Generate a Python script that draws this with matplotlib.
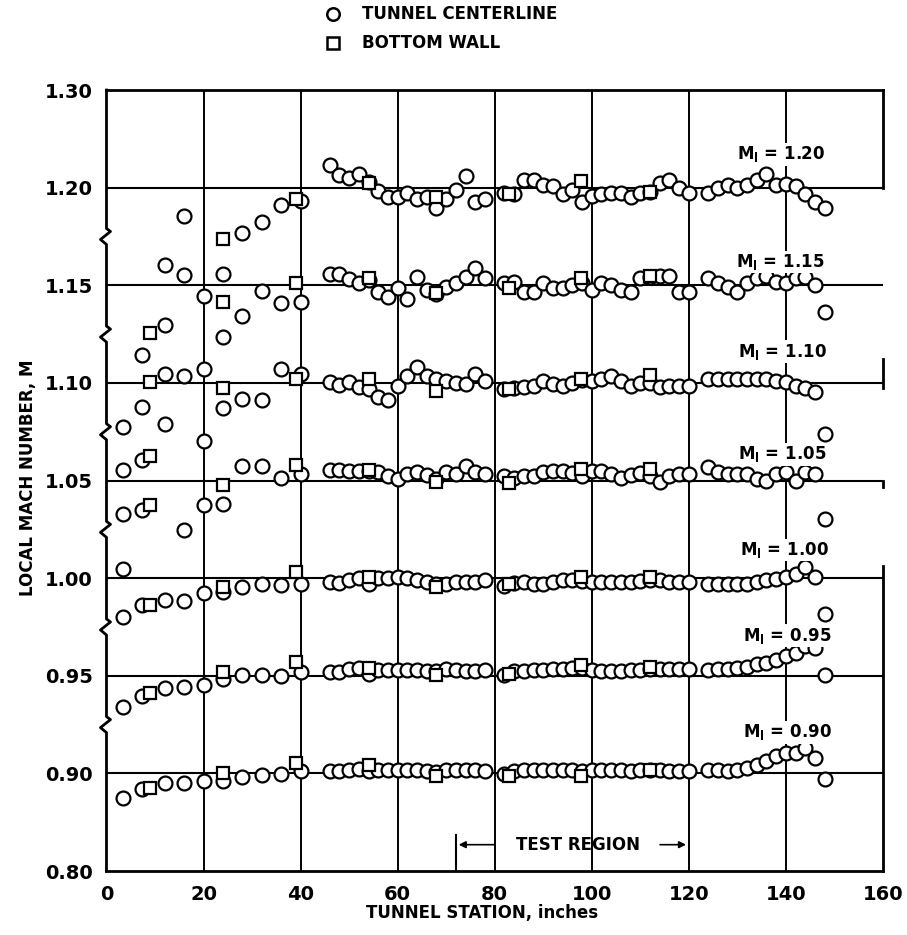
import matplotlib
matplotlib.use('Agg')
import matplotlib.pyplot as plt
from matplotlib.lines import Line2D

plt.rcParams['font.family'] = ['DejaVu Sans']

# tunnel stations, inches
stations_upstream = [3.5, 7.3, 12, 16, 20, 24, 28, 32, 36, 40]
stations_downstream = [46, 48, 50, 52, 54, 56, 58, 60, 62, 64, 66, 68, 70, 72, 74, 76, 78,
                       82, 84, 86, 88, 90, 92, 94, 96, 98, 100, 102, 104, 106, 108, 110, 112, 114, 116, 118, 120,
                       124, 126, 128, 130, 132, 134, 136, 138, 140, 142, 144, 146, 148]
wall_stations = [9, 24, 39, 54, 68, 83, 97.7, 112]

mach_nominal = [0.90, 0.95, 1.00, 1.05, 1.10, 1.15, 1.20]

# local Mach number on the tunnel centerline (upstream stations, then downstream stations)
cl_090 = [0.875, 0.884, 0.890, 0.890, 0.892, 0.892, 0.896, 0.898, 0.899, 0.902,
          0.902, 0.902, 0.904, 0.905, 0.902, 0.903, 0.903, 0.903, 0.903, 0.903, 0.902, 0.901, 0.903, 0.903, 0.903, 0.903, 0.902,
          0.899, 0.902, 0.903, 0.903, 0.903, 0.903, 0.903, 0.903, 0.902, 0.903, 0.903, 0.903, 0.903, 0.902, 0.903, 0.903, 0.903, 0.902, 0.902, 0.902,
          0.904, 0.904, 0.902, 0.904, 0.906, 0.909, 0.913, 0.918, 0.921, 0.921, 0.926, 0.916, 0.894]
cl_095 = [0.918, 0.929, 0.937, 0.939, 0.941, 0.947, 0.951, 0.951, 0.950, 0.954,
          0.954, 0.954, 0.957, 0.958, 0.952, 0.956, 0.956, 0.956, 0.956, 0.956, 0.955, 0.955, 0.957, 0.956, 0.955, 0.955, 0.956,
          0.951, 0.955, 0.955, 0.956, 0.956, 0.957, 0.957, 0.958, 0.958, 0.956, 0.955, 0.955, 0.955, 0.956, 0.956, 0.957, 0.957, 0.957, 0.957, 0.957,
          0.956, 0.957, 0.957, 0.958, 0.959, 0.962, 0.963, 0.966, 0.970, 0.973, 0.981, 0.978, 0.951]
cl_100 = [0.960, 0.973, 0.978, 0.977, 0.985, 0.986, 0.991, 0.994, 0.993, 0.994,
          0.996, 0.995, 0.998, 1.000, 0.994, 1.000, 1.000, 1.001, 1.000, 0.998, 0.996, 0.994, 0.994, 0.996, 0.996, 0.996, 0.998,
          0.992, 0.995, 0.996, 0.994, 0.994, 0.996, 0.998, 0.998, 0.997, 0.996, 0.996, 0.996, 0.996, 0.996, 0.997, 0.998, 0.998, 0.996, 0.996, 0.996,
          0.994, 0.994, 0.994, 0.994, 0.994, 0.996, 0.998, 0.999, 1.001, 1.004, 1.011, 1.001, 0.963]
cl_105 = [0.959, 1.020, 1.108, 0.999, 1.025, 1.026, 1.065, 1.065, 1.053, 1.057,
          1.061, 1.061, 1.060, 1.060, 1.060, 1.059, 1.055, 1.052, 1.057, 1.059, 1.056, 1.052, 1.059, 1.057, 1.065, 1.059, 1.057,
          1.055, 1.053, 1.055, 1.055, 1.059, 1.060, 1.060, 1.058, 1.055, 1.060, 1.060, 1.057, 1.053, 1.056, 1.058, 1.055, 1.048, 1.055, 1.057, 1.057,
          1.064, 1.059, 1.057, 1.057, 1.057, 1.052, 1.050, 1.057, 1.059, 1.050, 1.059, 1.057, 1.011]
cl_110 = [0.966, 1.021, 1.109, 1.107, 1.041, 1.074, 1.084, 1.082, 1.114, 1.109,
          1.101, 1.098, 1.101, 1.096, 1.094, 1.086, 1.082, 1.097, 1.107, 1.116, 1.107, 1.104, 1.102, 1.100, 1.099, 1.109, 1.102,
          1.094, 1.095, 1.096, 1.097, 1.102, 1.099, 1.097, 1.100, 1.103, 1.102, 1.104, 1.107, 1.102, 1.097, 1.100, 1.100, 1.096, 1.097, 1.097, 1.097,
          1.104, 1.104, 1.104, 1.104, 1.104, 1.104, 1.104, 1.102, 1.101, 1.097, 1.095, 1.091, 1.048]
cl_115 = [0.961, 1.025, 1.109, 1.161, 1.064, 1.097, 1.119, 1.144, 1.132, 1.133,
          1.162, 1.162, 1.156, 1.152, 1.155, 1.143, 1.138, 1.147, 1.136, 1.159, 1.145, 1.141, 1.148, 1.152, 1.159, 1.168, 1.157,
          1.152, 1.153, 1.143, 1.143, 1.152, 1.147, 1.147, 1.150, 1.152, 1.145, 1.152, 1.150, 1.145, 1.143, 1.157, 1.158, 1.160, 1.160, 1.143, 1.143,
          1.157, 1.152, 1.148, 1.143, 1.152, 1.157, 1.160, 1.153, 1.152, 1.157, 1.159, 1.150, 1.123]
cl_120 = [0.955, 1.029, 1.121, 1.171, 1.089, 1.112, 1.154, 1.165, 1.182, 1.186,
          1.223, 1.213, 1.210, 1.214, 1.206, 1.197, 1.190, 1.190, 1.195, 1.188, 1.190, 1.179, 1.188, 1.198, 1.212, 1.185, 1.188,
          1.195, 1.193, 1.208, 1.208, 1.203, 1.202, 1.193, 1.198, 1.185, 1.191, 1.193, 1.195, 1.195, 1.190, 1.195, 1.196, 1.205, 1.208, 1.200, 1.195,
          1.195, 1.200, 1.203, 1.200, 1.203, 1.208, 1.214, 1.203, 1.204, 1.202, 1.193, 1.185, 1.179]

# local Mach number on the bottom wall
wall_090 = [0.885, 0.900, 0.911, 0.909, 0.897, 0.897, 0.897, 0.904]
wall_095 = [0.932, 0.954, 0.964, 0.958, 0.951, 0.952, 0.961, 0.959]
wall_100 = [0.973, 0.991, 1.006, 1.001, 0.991, 0.994, 1.001, 1.001]
wall_105 = [1.025, 1.045, 1.066, 1.061, 1.048, 1.047, 1.062, 1.062]
wall_110 = [1.025, 1.095, 1.104, 1.104, 1.092, 1.094, 1.104, 1.108]
wall_115 = [1.051, 1.133, 1.152, 1.157, 1.142, 1.147, 1.157, 1.160]
wall_120 = [1.051, 1.147, 1.188, 1.205, 1.190, 1.193, 1.207, 1.196]

y_tick_labels = ['0.80', '0.90', '0.95', '1.00', '1.05', '1.10', '1.15', '1.20', '1.30']
run_labels = ['0.90', '0.95', '1.00', '1.05', '1.10', '1.15', '1.20']
label_pos = [(140.4, 1.42), (140.2, 2.41), (139.8, 3.29), (139.2, 4.27),
             (139.2, 5.32), (138.8, 6.24), (139.0, 7.34)]

stations_cl = stations_upstream + stations_downstream
runs = [cl_090, cl_095, cl_100, cl_105, cl_110, cl_115, cl_120]
walls = [wall_090, wall_095, wall_100, wall_105, wall_110, wall_115, wall_120]

fig = plt.figure(figsize=(9.07, 9.35), dpi=100)
ax = fig.add_axes([0.1174, 0.0684, 0.8561, 0.8353])
ax.set_xlim(0, 160)
ax.set_ylim(0, 8)

for x in range(20, 160, 20):
    ax.axvline(x, color='black', lw=1.4, zorder=1)

# each run is drawn around its own grid line (broken scale, 0.1 per band)
for k, (m0, cl, wall) in enumerate(zip(mach_nominal, runs, walls), start=1):
    ax.axhline(k, color='black', lw=1.5, zorder=1)
    ax.plot(stations_cl, [k + (m - m0) * 10 for m in cl], 'o', ms=10,
            mfc='white', mec='black', mew=1.6, zorder=3, clip_on=False)
    ax.plot(wall_stations, [k + (m - m0) * 10 for m in wall], 's', ms=9,
            mfc='white', mec='black', mew=1.6, zorder=4, clip_on=False)

for (lx, ly), lab in zip(label_pos, run_labels):
    ax.text(lx, ly, r'M$_\mathregular{l}$ = ' + lab, ha='center', va='center',
            fontsize=12, fontweight='bold', zorder=5,
            bbox=dict(facecolor='white', edgecolor='none', pad=1))

# spines: left one drawn by hand with break marks
for s in ['left', 'right']:
    ax.spines[s].set_visible(False)
for s in ['top', 'bottom']:
    ax.spines[s].set_linewidth(2)

dxp = 160 / 776.5
dyp = 8 / 781
px, py = [0], [0]
for b in [1.5, 2.5, 3.5, 4.5, 5.5, 6.5]:
    px += [0, -6 * dxp, 4 * dxp, 0]
    py += [b - 8 * dyp, b - 3 * dyp, b + 5 * dyp, b + 8 * dyp]
px.append(0)
py.append(8)
ax.plot(px, py, color='black', lw=2, clip_on=False, zorder=6)

for y0, y1 in [(7, 8), (4.95, 5.24), (3.93, 4.0), (0, 3.12)]:
    ax.plot([160, 160], [y0, y1], color='black', lw=2, clip_on=False, zorder=6)

# test region marker
ax.plot([72, 72], [0, 0.37], color='black', lw=1.5, zorder=2)
ax.annotate('', xy=(72, 0.27), xytext=(80.5, 0.27),
            arrowprops=dict(arrowstyle='-|>', color='black', lw=1.2, mutation_scale=10))
ax.annotate('', xy=(120, 0.27), xytext=(113.5, 0.27),
            arrowprops=dict(arrowstyle='-|>', color='black', lw=1.2, mutation_scale=10))
ax.text(97.2, 0.27, 'TEST REGION', ha='center', va='center', fontsize=12, fontweight='bold')

ax.set_xticks(range(0, 161, 20))
ax.set_yticks(range(9))
ax.set_yticklabels(y_tick_labels)
ax.tick_params(length=0, labelsize=14, pad=10)
for t in ax.get_xticklabels() + ax.get_yticklabels():
    t.set_fontweight('bold')

fig.text(482 / 907, 1 - 913 / 935, 'TUNNEL STATION, inches', ha='center', va='center',
         fontsize=12, fontweight='bold')
fig.text(28 / 907, 1 - 478 / 935, 'LOCAL MACH NUMBER, M', rotation=90, ha='center',
         va='center', fontsize=12, fontweight='bold')

# legend at the top
fig.add_artist(Line2D([333 / 907], [1 - 14 / 935], marker='o', ms=9, mfc='white', mec='black',
                      mew=1.8, transform=fig.transFigure))
fig.add_artist(Line2D([333 / 907], [1 - 43 / 935], marker='s', ms=8, mfc='white', mec='black',
                      mew=1.8, transform=fig.transFigure))
fig.text(362 / 907, 1 - 14 / 935, 'TUNNEL CENTERLINE', ha='left', va='center', fontsize=12, fontweight='bold')
fig.text(362 / 907, 1 - 43 / 935, 'BOTTOM WALL', ha='left', va='center', fontsize=12, fontweight='bold')

fig.savefig('out.png', dpi=100)
